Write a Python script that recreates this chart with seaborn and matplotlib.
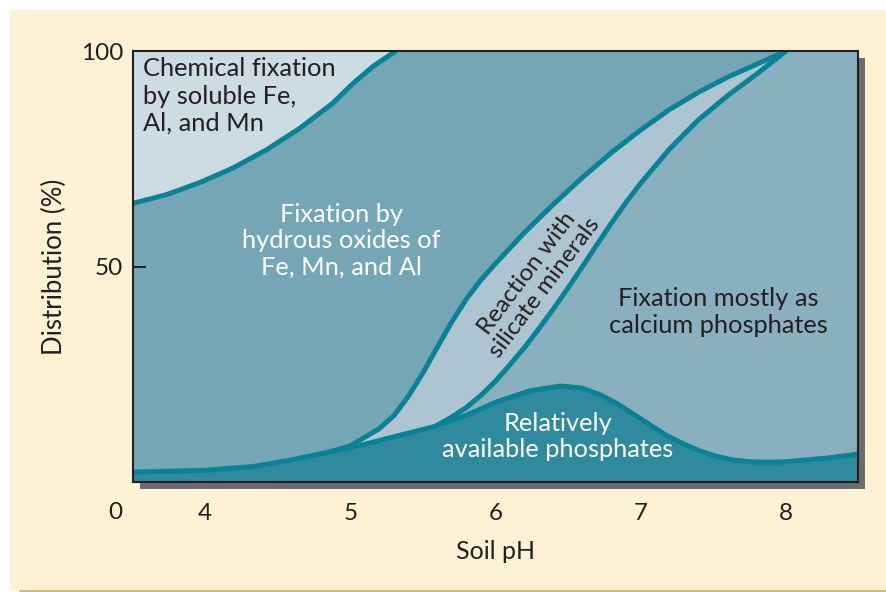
import numpy as np
import pandas as pd
import seaborn as sns
import matplotlib
matplotlib.use("Agg")
import matplotlib.pyplot as plt
from matplotlib.patches import Rectangle
from matplotlib.lines import Line2D
import matplotlib.transforms as mtransforms

# ---------------- data ----------------
# boundary: chemical fixation (above) / hydrous oxides (below)
chem_ph = [3.50, 3.73, 3.96, 4.19, 4.42, 4.65, 4.88, 5.02, 5.16, 5.31]
chem_pct = [64.7, 66.7, 69.5, 72.9, 77.1, 82.1, 88.0, 92.6, 96.6, 100.0]

# boundary: hydrous oxides (above) / silicate minerals (below)
sil_top_ph = [4.82, 5.00, 5.20, 5.30, 5.40, 5.50, 5.60, 5.70, 5.80, 5.90, 6.00,
              6.20, 6.40, 6.60, 6.80, 7.00, 7.20, 7.40, 7.60, 7.80, 8.00]
sil_top_pct = [6.6, 8.4, 12.4, 15.4, 19.9, 25.3, 31.3, 37.2, 42.5, 46.9, 50.7,
               57.9, 64.5, 70.7, 76.5, 81.7, 86.5, 90.5, 94.0, 97.0, 100.0]

# boundary: silicate minerals (above) / calcium phosphates (below)
sil_bot_ph = [5.60, 5.70, 5.80, 5.90, 6.00, 6.10, 6.20, 6.30, 6.40, 6.50,
              6.60, 6.70, 6.80, 6.90, 7.00, 7.20, 7.40, 7.60, 7.80, 8.00]
sil_bot_pct = [13.2, 15.1, 17.3, 20.1, 23.4, 27.2, 31.2, 35.6, 40.2, 45.0,
               50.0, 55.1, 60.1, 64.9, 69.3, 77.3, 84.1, 89.7, 94.7, 100.0]

# boundary: relatively available phosphates (below)
avail_ph = [3.50, 4.00, 4.33, 4.56, 4.79, 5.07, 5.30, 5.57, 5.80, 6.00,
            6.24, 6.45, 6.60, 6.72, 6.85, 6.95, 7.07, 7.18, 7.30, 7.41,
            7.52, 7.64, 7.76, 7.87, 8.00, 8.10, 8.30, 8.50]
avail_pct = [2.3, 2.7, 3.6, 4.9, 6.5, 8.5, 10.5, 12.8, 15.5, 18.5,
             21.2, 22.3, 21.8, 20.3, 18.0, 15.8, 13.2, 10.8, 8.8, 7.2,
             6.0, 5.1, 4.7, 4.6, 4.7, 5.0, 5.6, 6.5]

x_ticks = [4, 5, 6, 7, 8]
y_ticks = [50, 100]
x_range = (3.5, 8.5)
y_range = (0, 100)

region_labels = {
    "chem": "Chemical fixation\nby soluble Fe,\nAl, and Mn",
    "hydrous": "Fixation by\nhydrous oxides of\nFe, Mn, and Al",
    "silicate": "Reaction with\nsilicate minerals",
    "calcium": "Fixation mostly as\ncalcium phosphates",
    "avail": "Relatively\navailable phosphates",
}

# ---------------- style ----------------
sns.set_theme(style="ticks")
plt.rcParams["font.family"] = ["Lato", "DejaVu Sans"]

CREAM = "#FEF2D5"
C_CHEM = "#CDDBE3"
C_HYD = "#74A6B5"
C_SIL = "#ADC5D0"
C_CAL = "#8AB0BF"
C_AVAIL = "#2E8A9C"
C_LINE = "#0A8296"
C_SHADOW = "#6B6B70"
C_TEXT = "#231F20"

fig = plt.figure(figsize=(8.86, 5.92), dpi=100, facecolor="white")
W, H = 886, 592
# cream page background
fig.add_artist(Rectangle((10 / W, 2 / H), 1 - 10 / W, (590 - 10) / H,
                         transform=fig.transFigure, facecolor=CREAM,
                         edgecolor="none", zorder=-3))
fig.add_artist(Line2D([20 / W, 1], [1.5 / H, 1.5 / H], transform=fig.transFigure,
                      color="#D8B57A", lw=1.5, zorder=-2))

ax = fig.add_axes([132.7 / W, (H - 482) / H, (858 - 132.7) / W, (482 - 51.4) / H])
ax.set_facecolor(C_HYD)

# drop shadow of the plot box
shadow = Rectangle((0, 0), 1, 1,
                   transform=ax.transAxes + mtransforms.ScaledTranslation(
                       7 / 100, -7 / 100, fig.dpi_scale_trans),
                   facecolor=C_SHADOW, edgecolor="none", zorder=-1)
fig.add_artist(shadow)

# ---------------- regions ----------------
ax.fill_between(chem_ph, chem_pct, y_range[1], color=C_CHEM, lw=0, zorder=1)
ax.fill_between(sil_top_ph, sil_top_pct, 0, color=C_SIL, lw=0, zorder=2)
ax.fill_between(sil_bot_ph, sil_bot_pct, 0, color=C_CAL, lw=0, zorder=3)
ax.axvspan(sil_bot_ph[-1], x_range[1], color=C_CAL, lw=0, zorder=3)
ax.fill_between(avail_ph, avail_pct, 0, color=C_AVAIL, lw=0, zorder=4)

# ---------------- boundary lines ----------------
curves = [(chem_ph, chem_pct), (sil_top_ph, sil_top_pct),
          (sil_bot_ph, sil_bot_pct), (avail_ph, avail_pct)]
for xs, ys in curves:
    df = pd.DataFrame({"pH": xs, "pct": ys})
    sns.lineplot(data=df, x="pH", y="pct", ax=ax, color=C_LINE, lw=3.6,
                 estimator=None, sort=False, zorder=5,
                 solid_capstyle="round", solid_joinstyle="round")

# ---------------- labels in regions ----------------
fs = 18.3
ax.text(3.571, 98.6, region_labels["chem"], ha="left", va="top", fontsize=fs,
        color=C_TEXT, linespacing=1.22, zorder=6)
ax.text(4.94, 56.0, region_labels["hydrous"], ha="center", va="center",
        fontsize=fs, color="white", linespacing=1.18, zorder=6)
ax.text(6.28, 46.8, region_labels["silicate"], ha="center", va="center",
        fontsize=17.5, color=C_TEXT, rotation=53, rotation_mode="anchor",
        linespacing=1.1, zorder=6)
ax.text(7.54, 39.5, region_labels["calcium"], ha="center", va="center",
        fontsize=fs, color=C_TEXT, linespacing=1.18, zorder=6)
ax.text(6.43, 10.6, region_labels["avail"], ha="center", va="center",
        fontsize=fs, color="white", linespacing=1.18, zorder=6)

# ---------------- axes ----------------
ax.set_xlim(*x_range)
ax.set_ylim(*y_range)
ax.set_xticks(x_ticks)
ax.set_yticks(y_ticks)
ax.tick_params(axis="both", direction="in", length=9, width=1.4,
               color=C_TEXT, labelcolor=C_TEXT, labelsize=17.5)
ax.tick_params(axis="x", pad=15, top=False)
ax.tick_params(axis="y", pad=7, right=False)
for s in ax.spines.values():
    s.set_visible(True)
    s.set_color(C_TEXT)
    s.set_linewidth(1.5)
    s.set_zorder(7)

ax.set_xlabel("Soil pH", fontsize=18, color=C_TEXT)
ax.set_ylabel("Distribution (%)", fontsize=18.5, color=C_TEXT)
ax.xaxis.set_label_coords(0.5, -0.134)
ax.yaxis.set_label_coords(-0.0906, 0.5)

# corner "0" of the broken axis
corner = mtransforms.blended_transform_factory(ax.transData, ax.transAxes)
ax.text(3.378, -0.0712, "0", transform=corner, ha="center", va="center",
        fontsize=17.5, color=C_TEXT, clip_on=False)

fig.savefig("out.png", dpi=100, facecolor=fig.get_facecolor())
